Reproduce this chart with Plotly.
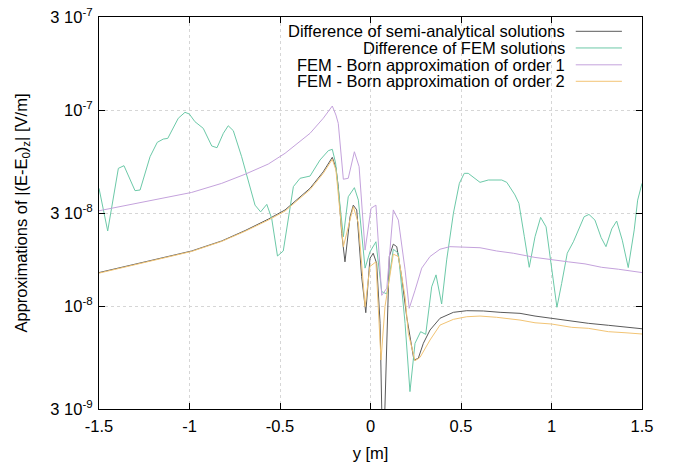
import plotly.graph_objects as go

# ---------------- data ----------------
semi_x = [-1.5, -1.338, -1.154, -0.988, -0.822, -0.693, -0.565, -0.472, -0.334, -0.261,
          -0.211, -0.191, -0.178, -0.159, -0.141, -0.113, -0.095, -0.076, -0.049, -0.026,
          -0.003, 0.015, 0.034, 0.053, 0.069, 0.104, 0.126, 0.145, 0.172, 0.200,
          0.240, 0.264, 0.292, 0.329, 0.384, 0.458, 0.532, 0.623, 0.716, 0.826,
          0.909, 1.001, 1.093, 1.203, 1.314, 1.406, 1.5]
semi_y = [1.49e-8, 1.61e-8, 1.76e-8, 1.92e-8, 2.16e-8, 2.44e-8, 2.79e-8, 3.11e-8, 4.01e-8, 4.87e-8,
          5.77e-8, 5.09e-8, 4.09e-8, 2.36e-8, 1.69e-8, 2.87e-8, 3.29e-8, 3.11e-8, 1.42e-8, 9.30e-9,
          1.76e-8, 1.87e-8, 1.66e-8, 8.21e-9, 1.4e-9, 1.80e-8, 2.08e-8, 2.02e-8, 1.42e-8, 8.87e-9,
          5.33e-9, 5.44e-9, 6.49e-9, 7.59e-9, 8.71e-9, 9.34e-9, 9.52e-9, 9.49e-9, 9.34e-9, 9.23e-9,
          8.94e-9, 8.71e-9, 8.46e-9, 8.21e-9, 8.02e-9, 7.83e-9, 7.70e-9]

fem_x = [-1.5, -1.452, -1.393, -1.362, -1.301, -1.273, -1.218, -1.178, -1.145, -1.120,
         -1.062, -1.025, -1.001, -0.970, -0.924, -0.877, -0.848, -0.813, -0.786, -0.758,
         -0.712, -0.666, -0.638, -0.607, -0.573, -0.546, -0.514, -0.482, -0.426, -0.389,
         -0.334, -0.279, -0.233, -0.211, -0.193, -0.150, -0.123, -0.089, -0.067, -0.030,
         -0.003, 0.030, 0.062, 0.090, 0.126, 0.154, 0.191, 0.218, 0.246, 0.277,
         0.305, 0.338, 0.362, 0.393, 0.421, 0.458, 0.491, 0.518, 0.540, 0.605,
         0.651, 0.725, 0.753, 0.798, 0.820, 0.850, 0.877, 0.909, 0.940, 0.970,
         1.001, 1.030, 1.056, 1.087, 1.121, 1.152, 1.180, 1.207, 1.240, 1.274,
         1.301, 1.333, 1.360, 1.391, 1.424, 1.457, 1.476, 1.5]
fem_y = [4.01e-8, 2.43e-8, 5.07e-8, 5.23e-8, 3.90e-8, 3.93e-8, 5.81e-8, 6.88e-8, 7.15e-8, 7.21e-8,
         9.13e-8, 9.79e-8, 9.60e-8, 8.77e-8, 8.11e-8, 6.59e-8, 6.46e-8, 7.65e-8, 8.36e-8, 7.89e-8,
         5.81e-8, 4.01e-8, 3.29e-8, 3.04e-8, 3.32e-8, 2.82e-8, 1.81e-8, 1.92e-8, 4.09e-8, 4.51e-8,
         4.63e-8, 5.59e-8, 6.24e-8, 6.34e-8, 5.40e-8, 2.27e-8, 3.63e-8, 4.04e-8, 3.49e-8, 1.57e-8,
         1.90e-8, 2.14e-8, 1.19e-8, 1.16e-8, 1.96e-8, 1.87e-8, 8.21e-9, 3.68e-9, 6.49e-9, 7.44e-9,
         7.21e-9, 1.26e-8, 1.45e-8, 1.03e-8, 1.73e-8, 2.99e-8, 4.25e-8, 4.78e-8, 4.78e-8, 4.30e-8,
         4.42e-8, 4.42e-8, 4.30e-8, 3.71e-8, 3.36e-8, 2.27e-8, 1.585e-8, 2.27e-8, 2.85e-8, 2.55e-8,
         1.60e-8, 9.91e-9, 1.31e-8, 1.87e-8, 2.14e-8, 2.51e-8, 2.87e-8, 2.95e-8, 2.76e-8, 2.25e-8,
         2.02e-8, 2.49e-8, 2.73e-8, 2.18e-8, 1.58e-8, 2.46e-8, 3.49e-8, 4.25e-8]

born1_x = [-1.5, -1.338, -1.154, -0.988, -0.822, -0.693, -0.565, -0.472, -0.334, -0.261,
           -0.211, -0.191, -0.178, -0.150, -0.123, -0.089, -0.063, -0.030, 0.003, 0.030,
           0.062, 0.090, 0.126, 0.154, 0.191, 0.214, 0.246, 0.283, 0.329, 0.384,
           0.439, 0.532, 0.605, 0.697, 0.789, 0.909, 1.001, 1.093, 1.185, 1.277,
           1.369, 1.434, 1.5]
born1_y = [3.08e-8, 3.29e-8, 3.56e-8, 3.82e-8, 4.25e-8, 4.73e-8, 5.33e-8, 6.05e-8, 7.65e-8, 9.13e-8,
           1.054e-7, 9.48e-8, 8.60e-8, 4.46e-8, 4.51e-8, 6.16e-8, 5.17e-8, 1.94e-8, 3.17e-8, 3.29e-8,
           1.14e-8, 1.24e-8, 3.11e-8, 2.76e-8, 1.54e-8, 9.79e-9, 1.21e-8, 1.57e-8, 1.80e-8, 1.96e-8,
           2.02e-8, 2.00e-8, 1.995e-8, 1.92e-8, 1.87e-8, 1.78e-8, 1.73e-8, 1.69e-8, 1.65e-8, 1.585e-8,
           1.55e-8, 1.52e-8, 1.49e-8]

born2_x = [-1.5, -1.338, -1.154, -0.988, -0.822, -0.693, -0.565, -0.472, -0.334, -0.261,
           -0.211, -0.191, -0.150, -0.123, -0.095, -0.067, -0.030, -0.003, 0.030, 0.058,
           0.080, 0.126, 0.154, 0.191, 0.209, 0.246, 0.274, 0.329, 0.384, 0.458,
           0.532, 0.605, 0.697, 0.826, 0.909, 1.001, 1.112, 1.203, 1.314, 1.406, 1.5]
born2_y = [1.48e-8, 1.60e-8, 1.75e-8, 1.91e-8, 2.15e-8, 2.42e-8, 2.76e-8, 3.07e-8, 3.95e-8, 4.78e-8,
           5.64e-8, 4.97e-8, 2.02e-8, 2.55e-8, 3.23e-8, 2.66e-8, 9.98e-9, 1.60e-8, 1.69e-8, 5.33e-9,
           9.98e-9, 1.85e-8, 1.80e-8, 1.12e-8, 7.30e-9, 5.29e-9, 5.51e-9, 6.75e-9, 8.04e-9, 8.60e-9,
           8.87e-9, 8.94e-9, 8.81e-9, 8.53e-9, 8.26e-9, 8.14e-9, 7.83e-9, 7.74e-9, 7.44e-9, 7.35e-9, 7.24e-9]

series_names = ["Difference of semi-analytical solutions",
                "Difference of FEM solutions",
                "FEM - Born approximation of order 1",
                "FEM - Born approximation of order 2"]
series_colors = ["#5a5a5a", "#6cc9a8", "#c4a2dc", "#f2c474"]

x_tick_vals = [-1.5, -1, -0.5, 0, 0.5, 1, 1.5]
x_tick_text = ["-1.5", "-1", "-0.5", "0", "0.5", "1", "1.5"]
y_tick_vals = [3e-9, 1e-8, 3e-8, 1e-7, 3e-7]
y_tick_text = ["3 10<sup>-9</sup>", "10<sup>-8</sup>", "3 10<sup>-8</sup>",
               "10<sup>-7</sup>", "3 10<sup>-7</sup>"]

# ---------------- figure ----------------
FONT = "Liberation Sans, Arial, Helvetica, sans-serif"
FS = 16.5
fig = go.Figure()
all_x = [semi_x, fem_x, born1_x, born2_x]
all_y = [semi_y, fem_y, born1_y, born2_y]
for xs, ys, name, col in zip(all_x, all_y, series_names, series_colors):
    fig.add_trace(go.Scatter(x=xs, y=ys, mode="lines", name=name,
                             line=dict(color=col, width=1), showlegend=False))

# custom gnuplot-style legend (text right-aligned, sample line on the right)
leg_y = [0.9635, 0.921, 0.878, 0.836]
for name, col, yy in zip(series_names, series_colors, leg_y):
    fig.add_annotation(xref="paper", yref="paper", x=0.862, y=yy, text=name,
                       showarrow=False, xanchor="right", yanchor="middle",
                       font=dict(family=FONT, size=FS, color="black"))
    fig.add_shape(type="line", xref="paper", yref="paper", x0=0.878, x1=0.963,
                  y0=yy, y1=yy, line=dict(color=col, width=1))

axis_common = dict(showline=True, linecolor="black", linewidth=1, mirror="ticks",
                   ticks="inside", ticklen=6, tickcolor="black", showgrid=True,
                   gridcolor="#d6d6d6", griddash="dot", gridwidth=1, zeroline=False,
                   automargin=False,
                   tickfont=dict(family=FONT, size=FS, color="black"))

fig.update_xaxes(range=[-1.5, 1.5], tickvals=x_tick_vals, ticktext=x_tick_text,
                 title=dict(text="y [m]", font=dict(family=FONT, size=FS, color="black"),
                            standoff=15),
                 ticklabelstandoff=2, **axis_common)
fig.update_yaxes(type="log", range=[-8.5229, -6.5229], tickvals=y_tick_vals,
                 ticktext=y_tick_text,
                 title=dict(text="Approximations of |(E-E<sub>0</sub>)<sub>z</sub>| [V/m]",
                            font=dict(family=FONT, size=FS, color="black"), standoff=18),
                 ticklabelstandoff=2, **axis_common)

fig.update_layout(width=679, height=462, margin=dict(l=99, r=37, t=17, b=53),
                  plot_bgcolor="white", paper_bgcolor="white",
                  font=dict(family=FONT, size=FS, color="black"))

fig.write_html("out.html")
